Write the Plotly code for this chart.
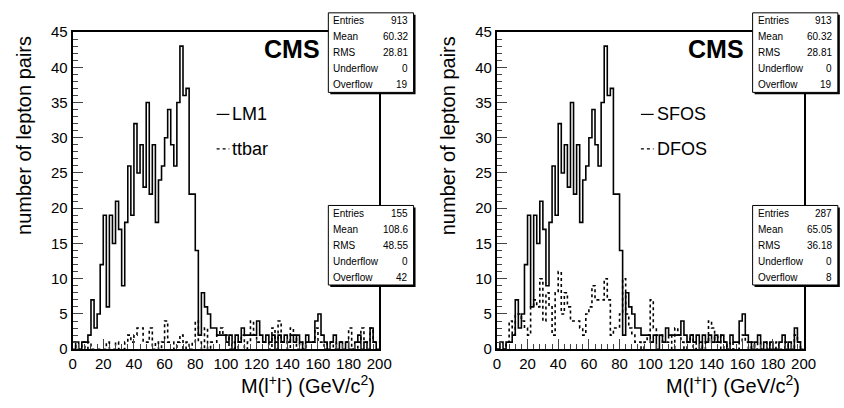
import plotly.graph_objects as go

W, H = 844, 408

# bin edges (GeV/c^2), 100 bins of width 2
edges = [2 * i for i in range(101)]

lm1 = [0, 1, 0, 1, 1, 2, 7, 3, 5, 12,
       19, 6, 19, 15, 21, 17, 9, 18, 26, 19,
       32, 25, 29, 23, 35, 22, 29, 18, 24, 26,
       30, 34, 29, 26, 35, 43, 36, 37, 22, 22,
       14, 2, 8, 6, 5, 3, 3, 2, 2, 2,
       1, 2, 0, 2, 1, 3, 2, 2, 2, 2,
       4, 2, 1, 2, 1, 2, 0, 2, 1, 2,
       1, 2, 1, 2, 1, 0, 2, 1, 1, 4,
       5, 2, 1, 0, 1, 2, 0, 1, 0, 1,
       0, 0, 1, 2, 0, 1, 0, 3, 1, 0]

ttbar = [1, 0, 0, 1, 0, 1, 0, 0, 0, 0,
         0, 1, 0, 0, 1, 0, 0, 1, 2, 1,
         2, 3, 3, 1, 1, 3, 0, 1, 0, 1,
         4, 1, 1, 0, 1, 2, 0, 1, 0, 1,
         4, 1, 0, 3, 0, 1, 1, 2, 3, 2,
         2, 0, 1, 0, 1, 2, 0, 1, 4, 2,
         1, 1, 1, 1, 0, 3, 1, 4, 1, 1,
         0, 3, 2, 0, 1, 0, 1, 1, 1, 3,
         1, 1, 0, 1, 1, 0, 1, 1, 1, 1,
         3, 0, 0, 1, 3, 1, 1, 3, 1, 1]

sfos = lm1

dfos = [0, 0, 0, 1, 4, 2, 5, 5, 4, 3,
        2, 6, 7, 6, 10, 4, 8, 6, 2, 8,
        11, 5, 8, 6, 4, 4, 4, 3, 2, 5,
        6, 9, 7, 7, 7, 10, 7, 2, 3, 3,
        5, 10, 5, 3, 2, 1, 1, 0, 1, 2,
        7, 3, 2, 2, 1, 1, 2, 0, 3, 2,
        1, 0, 1, 2, 0, 1, 1, 0, 1, 4,
        3, 1, 2, 0, 1, 0, 1, 0, 0, 1,
        2, 1, 0, 1, 0, 1, 0, 0, 1, 0,
        0, 1, 0, 0, 1, 0, 0, 2, 1, 0]

stat_labels = ["Entries", "Mean", "RMS", "Underflow", "Overflow"]
stats_lm1 = ["913", "60.32", "28.81", "0", "19"]
stats_ttbar = ["155", "108.6", "48.55", "0", "42"]
stats_sfos = ["913", "60.32", "28.81", "0", "19"]
stats_dfos = ["287", "65.05", "36.18", "0", "8"]

FONT = "Liberation Sans, Arial, Helvetica, sans-serif"

def px(x):
    return x / W

def py(y):
    return 1 - y / H

def ann(x, y, text, size, xanchor="center", yanchor="middle", **kw):
    return dict(x=px(x), y=py(y), xref="paper", yref="paper", text=text,
                showarrow=False, xanchor=xanchor, yanchor=yanchor,
                font=dict(family=FONT, size=size, color="black"), **kw)

fig = go.Figure()

panels = [
    dict(off=0, xa="x", ya="y", h1=lm1, h2=ttbar, n1="LM1", n2="ttbar", s1=stats_lm1, s2=stats_ttbar),
    dict(off=433, xa="x2", ya="y2", h1=sfos, h2=dfos, n1="SFOS", n2="DFOS", s1=stats_sfos, s2=stats_dfos),
]

shapes = []
annotations = []

for p in panels:
    for vals, dash in ((p["h2"], "dot"), (p["h1"], "solid")):
        fig.add_trace(go.Scatter(
            x=edges, y=list(vals) + [vals[-1]],
            mode="lines", line=dict(shape="hv", color="black", width=1.6, dash=dash),
            xaxis=p["xa"], yaxis=p["ya"], showlegend=False, hoverinfo="skip"))
    o = p["off"]
    # CMS label
    annotations.append(ann(294 + o, 42, "<b>CMS</b>", 25))
    # legend
    for yy, dash, name in ((110, "solid", p["n1"]), (146, "dot", p["n2"])):
        shapes.append(dict(type="line", xref="paper", yref="paper",
                           x0=px(217 + o), x1=px(230 + o), y0=py(yy), y1=py(yy),
                           line=dict(color="black", width=1.2, dash=dash)))
        annotations.append(ann(231 + o, yy, name, 18, xanchor="left"))
    # axis titles (right / top aligned as in ROOT)
    annotations.append(ann(381 + o, 392,
                           "M(l<sup>+</sup>l<sup>-</sup>) (GeV/c<sup>2</sup>)", 20,
                           xanchor="right"))
    annotations.append(ann(21 + o, 26, "number of lepton pairs", 20,
                           yanchor="top", textangle=-90))
    # stat boxes
    for (top, bot, stv) in ((4, 87, p["s1"]), (205, 288, p["s2"])):
        x0, x1 = 331 + o, 418 + o
        shapes.append(dict(type="rect", xref="paper", yref="paper", layer="above",
                           x0=px(x0 + 2), x1=px(x1 + 2), y0=py(bot + 2), y1=py(top + 2),
                           fillcolor="black", line=dict(width=0)))
        shapes.append(dict(type="rect", xref="paper", yref="paper", layer="above",
                           x0=px(x0), x1=px(x1), y0=py(bot), y1=py(top),
                           fillcolor="white", line=dict(color="black", width=1)))
        rowh = (bot - top) / 5
        for k, (lab, v) in enumerate(zip(stat_labels, stv)):
            yc = top + rowh * (k + 0.5)
            annotations.append(ann(x0 + 3, yc, lab, 10, xanchor="left"))
            annotations.append(ann(x1 - 4, yc, v, 10, xanchor="right"))

xcommon = dict(range=[0, 200], tick0=0, dtick=20, ticks="inside", ticklen=10, tickwidth=1,
               minor=dict(ticks="inside", dtick=4, ticklen=5, tickwidth=1),
               showline=True, mirror=True, linecolor="black", linewidth=2,
               showgrid=False, zeroline=False,
               tickfont=dict(family=FONT, size=15, color="black"))
ycommon = dict(range=[0, 45], tick0=0, dtick=5, ticks="inside", ticklen=10, tickwidth=1,
               minor=dict(ticks="inside", dtick=1, ticklen=5, tickwidth=1),
               showline=True, mirror=True, linecolor="black", linewidth=2,
               showgrid=False, zeroline=False,
               tickfont=dict(family=FONT, size=15, color="black"))

ydom = [py(355), py(24)]
fig.update_layout(
    width=W, height=H, margin=dict(l=0, r=0, t=0, b=0),
    paper_bgcolor="white", plot_bgcolor="white",
    xaxis=dict(domain=[px(70), px(383)], anchor="y", **xcommon),
    yaxis=dict(domain=ydom, anchor="x", **ycommon),
    xaxis2=dict(domain=[px(503), px(816)], anchor="y2", **xcommon),
    yaxis2=dict(domain=ydom, anchor="x2", **ycommon),
    shapes=shapes, annotations=annotations,
)

fig.write_html("out.html")
